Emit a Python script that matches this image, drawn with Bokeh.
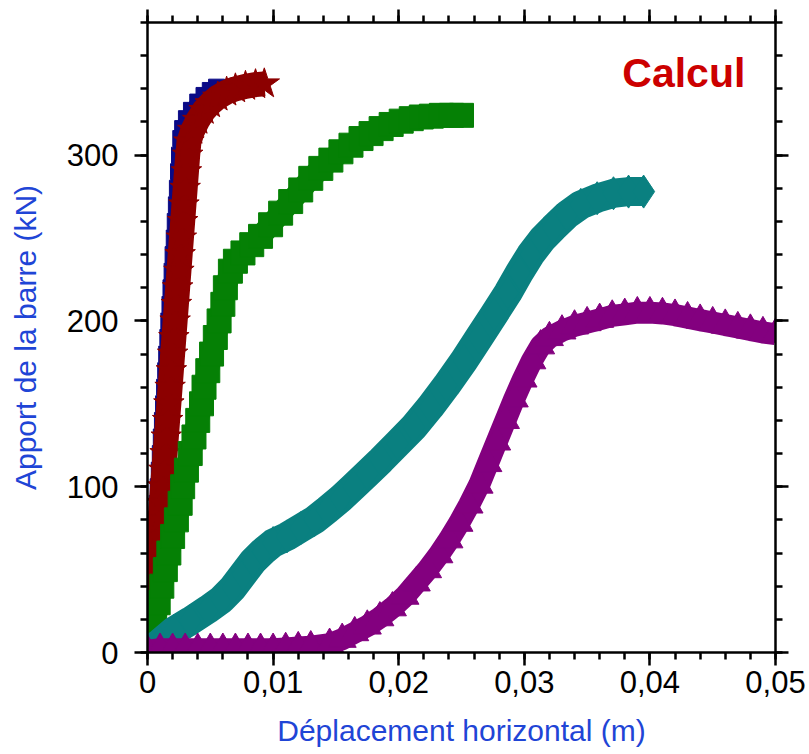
from bokeh.plotting import figure
from bokeh.models import Range1d, LinearAxis, FixedTicker, CustomJSTickFormatter, Label
from bokeh.embed import file_html
from bokeh.resources import INLINE

# ---------------- data ----------------
x_ticks = [0, 0.01, 0.02, 0.03, 0.04, 0.05]
y_ticks = [0, 100, 200, 300]

navy_x = [0.0000, 0.0001, 0.0002, 0.00025, 0.00034, 0.00043, 0.00051, 0.0006, 0.00068, 0.00077,
          0.00085, 0.00094, 0.00102, 0.0011, 0.00119, 0.00128, 0.00136, 0.00145, 0.00153, 0.00162,
          0.0017, 0.00179, 0.00187, 0.00196, 0.00204, 0.00213, 0.00221, 0.0023, 0.00238, 0.00247,
          0.00255, 0.00265, 0.0028, 0.0031, 0.0035, 0.0040, 0.0045, 0.0050, 0.0055]
navy_y = [0, 10, 20, 30, 40, 50, 60, 70, 80, 90,
          100, 110, 120, 130, 140, 150, 160, 170, 180, 190,
          200, 210, 220, 230, 240, 250, 260, 270, 280, 290,
          300, 310, 316, 322, 327, 332, 336, 339, 341]

red_x = [0.0001, 0.0003, 0.0004, 0.0005, 0.0006, 0.0007, 0.0008, 0.0009, 0.0010, 0.0011,
         0.0012, 0.0013, 0.0014, 0.0015, 0.0016, 0.0017, 0.0018, 0.0019, 0.0020, 0.0021,
         0.0022, 0.0023, 0.0024, 0.0025, 0.0026, 0.0027, 0.0028, 0.0029, 0.0030, 0.0031,
         0.0032, 0.0033, 0.0036, 0.0040, 0.0045, 0.0050, 0.0056, 0.0063, 0.0070, 0.0078,
         0.0086, 0.0093]
red_y = [0, 10, 20, 30, 40, 50, 60, 70, 80, 90,
         100, 110, 120, 130, 140, 150, 160, 170, 180, 190,
         200, 210, 220, 230, 240, 250, 260, 270, 280, 290,
         300, 308, 315, 321, 327, 331, 335, 338, 340, 341.5,
         342.5, 343]

green_x = [0.0000, 0.00028, 0.00057, 0.00085, 0.00114, 0.00142, 0.0017, 0.0020, 0.0023, 0.0026,
           0.0028, 0.0031, 0.0034, 0.0037, 0.0040, 0.0043, 0.0045, 0.0048, 0.0051, 0.0054,
           0.0057, 0.0060, 0.0062, 0.0066, 0.0070, 0.0076, 0.0083, 0.0090, 0.0098, 0.0106,
           0.0114, 0.0122, 0.0130, 0.0138, 0.0146, 0.0154, 0.0162, 0.0170, 0.0178, 0.0186,
           0.0194, 0.0202, 0.0210, 0.0218, 0.0226, 0.0234, 0.0242, 0.0250]
green_y = [0, 10, 20, 30, 40, 50, 60, 70, 80, 90,
           100, 110, 120, 130, 140, 150, 160, 170, 180, 190,
           200, 210, 220, 230, 236, 241, 246, 251, 258, 265,
           272, 279, 286, 292, 297, 302, 306, 310, 313, 316,
           318.5, 320.5, 322, 323, 323.5, 324, 324, 324]

teal_x = [0.0000, 0.0010, 0.0021, 0.0034, 0.0048, 0.0059, 0.0068, 0.0076, 0.0084, 0.0092,
          0.0100, 0.0111, 0.0122, 0.0133, 0.0143, 0.0154, 0.0164, 0.0175, 0.0186, 0.0199,
          0.0212, 0.0225, 0.0238, 0.0252, 0.0264, 0.0276, 0.0287, 0.0296, 0.0305, 0.0314,
          0.0323, 0.0334, 0.0345, 0.0358, 0.0371, 0.0383, 0.0395]
teal_y = [0, 6, 13, 19, 26, 32, 39, 47, 55, 61,
          66, 70, 75, 80, 86, 93, 100, 108, 116, 126,
          136, 148, 161, 176, 190, 204, 217, 229, 240, 249,
          256, 264, 270, 274, 277, 278, 278]

purple_x = [0.0000, 0.0010, 0.0020, 0.0030, 0.0040, 0.0050, 0.0060, 0.0070, 0.0080, 0.0090,
            0.0100, 0.0110, 0.0120, 0.0130, 0.0145, 0.0155, 0.0165, 0.0175, 0.0185, 0.0195,
            0.0205, 0.0214, 0.0223, 0.0232, 0.0240, 0.0248, 0.0256, 0.0264, 0.0271, 0.0278,
            0.0285, 0.0292, 0.0299, 0.0306, 0.0313, 0.0320, 0.0330, 0.0340, 0.0350, 0.0360,
            0.0370, 0.0380, 0.0390, 0.0400, 0.0410, 0.0420, 0.0430, 0.0440, 0.0450, 0.0460,
            0.0470, 0.0480, 0.0490, 0.0500]
purple_y = [1, 2, 2, 2, 2, 2, 2, 2, 2, 2,
            2, 2.5, 3, 3.5, 5, 8, 12, 16, 21, 27,
            34, 42, 50, 59, 68, 78, 89, 101, 114, 127,
            140, 153, 165, 176, 185, 190, 194, 197, 199, 201,
            203, 204, 205, 205, 204.5, 203.5, 202, 200.5, 199, 197.5,
            196, 194.5, 193, 192]

# ---------------- figure ----------------
FONT = "Liberation Sans"
BLUE = "#1f45d6"

p = figure(frame_width=628, frame_height=630,
           x_range=Range1d(0, 0.05), y_range=Range1d(0, 380),
           output_backend="svg", toolbar_location=None,
           min_border_left=147, min_border_right=32,
           min_border_top=22, min_border_bottom=100)
p.xgrid.visible = False
p.ygrid.visible = False
p.outline_line_color = None
p.background_fill_color = "white"
p.border_fill_color = "white"

xt = FixedTicker(ticks=x_ticks, minor_ticks=[i * 0.002 for i in range(26)])
yt = FixedTicker(ticks=y_ticks, minor_ticks=[i * 20 for i in range(20)])
fmt = CustomJSTickFormatter(code="""
if (Math.abs(tick) < 1e-9) { return '0'; }
return tick.toFixed(2).replace('.', ',');
""")


def style_axis(ax):
    ax.axis_line_width = 2.5
    ax.axis_line_color = "black"
    ax.major_tick_out = 13
    ax.major_tick_in = 0
    ax.minor_tick_out = 7
    ax.minor_tick_in = 0
    ax.major_tick_line_width = 2.5
    ax.minor_tick_line_width = 2.5
    ax.major_tick_line_color = "black"
    ax.minor_tick_line_color = "black"
    ax.major_label_text_font = FONT
    ax.major_label_text_font_size = "31px"
    ax.major_label_text_color = "black"


xa = p.xaxis[0]
xa.ticker = xt
xa.formatter = fmt
style_axis(xa)
xa.major_label_standoff = 5
xa.axis_label = "Déplacement horizontal (m)"
xa.axis_label_text_font = FONT
xa.axis_label_text_font_size = "30px"
xa.axis_label_text_font_style = "normal"
xa.axis_label_text_color = BLUE
xa.axis_label_standoff = 18

ya = p.yaxis[0]
ya.ticker = yt
style_axis(ya)
ya.major_label_standoff = 16
ya.axis_label = "Apport de la barre (kN)"
ya.axis_label_text_font = FONT
ya.axis_label_text_font_size = "30px"
ya.axis_label_text_font_style = "normal"
ya.axis_label_text_color = BLUE
ya.axis_label_standoff = 22

top = LinearAxis(ticker=xt)
style_axis(top)
top.major_label_text_font_size = "1px"
top.major_label_text_color = None
top.major_label_standoff = 0
p.add_layout(top, "above")

right = LinearAxis(ticker=yt)
style_axis(right)
right.major_label_text_font_size = "1px"
right.major_label_text_color = None
right.major_label_standoff = 0
p.add_layout(right, "right")

NAVY = "#0a0a86"
RED = "#8c0000"
GREEN = "#058005"
TEAL = "#0a8080"
PURPLE = "#83007f"

p.line(navy_x, navy_y, line_width=14, color=NAVY, line_join="round")
p.scatter(navy_x, navy_y, marker="square", size=16, color=NAVY)

p.line(red_x, red_y, line_width=25, color=RED, line_join="round")
p.scatter(red_x, red_y, marker="star", size=32, color=RED)

p.line(green_x, green_y, line_width=22, color=GREEN, line_join="round")
p.scatter(green_x, green_y, marker="square", size=24, color=GREEN)

p.line(teal_x, teal_y, line_width=29, color=TEAL, line_join="round")
p.scatter(teal_x, teal_y, marker="diamond", size=33, color=TEAL)

p.line(purple_x, purple_y, line_width=22, color=PURPLE, line_join="round")
p.scatter(purple_x, purple_y, marker="triangle", size=28, color=PURPLE)

p.add_layout(Label(x=0.0476, y=349.5, text="Calcul", text_font=FONT,
                   text_font_size="41px", text_font_style="bold",
                   text_color="#cc0000", text_align="right",
                   text_baseline="middle"))

open("out.html", "w").write(file_html(p, INLINE))
